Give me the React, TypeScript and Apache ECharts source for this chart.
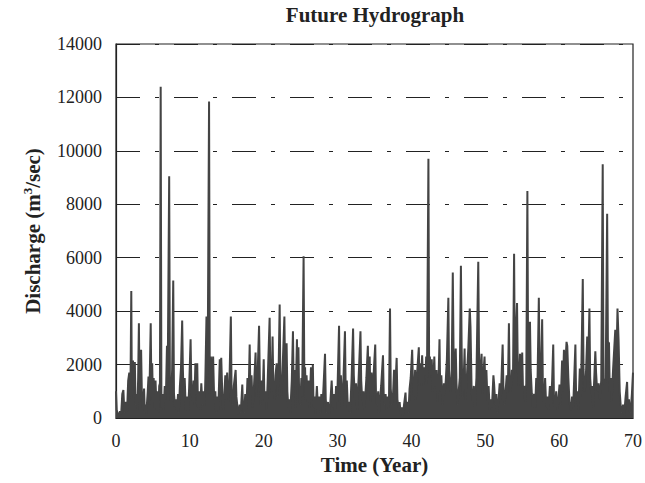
import React, { useEffect, useRef } from "react";
import * as echarts from "echarts";

const TITLE = "Future Hydrograph";
const X_NAME = "Time (Year)";
const Y_NAME_MAIN = "Discharge (m";
const Y_NAME_SUP = "3";
const Y_NAME_TAIL = "/sec)";
const X_MIN = 0;
const X_MAX = 70;
const X_STEP = 10;
const Y_MIN = 0;
const Y_MAX = 14000;
const Y_STEP = 2000;

// [time (year), discharge (m3/sec)] — peaks and troughs
const hydrograph: [number, number][] = [
  [0, 1000], [0.1, 300], [0.25, 150], [0.4, 100], [0.55, 250], [0.7, 150], [0.85, 900], [1.0, 1050], [1.1, 400], [1.2, 200],
  [1.35, 600], [1.5, 250], [1.65, 1400], [1.8, 1700], [1.95, 800], [2.07, 4750], [2.15, 700], [2.3, 2150], [2.45, 1200], [2.55, 2100],
  [2.65, 500], [2.8, 900], [2.9, 300], [3.0, 1500], [3.1, 3550], [3.2, 600], [3.4, 2550], [3.5, 900], [3.6, 300], [3.8, 1100],
  [3.9, 200], [4.0, 500], [4.1, 150], [4.3, 1000], [4.4, 1550], [4.5, 500], [4.7, 3550], [4.8, 800], [4.9, 2050], [5.0, 600],
  [5.1, 1500], [5.2, 400], [5.35, 1400], [5.5, 300], [5.6, 1000], [5.75, 200], [5.85, 1200], [5.95, 1300], [6.05, 12400], [6.15, 400],
  [6.3, 900], [6.45, 300], [6.6, 1200], [6.75, 700], [6.9, 2700], [7.0, 1500], [7.2, 9050], [7.3, 1200], [7.45, 600], [7.6, 1800],
  [7.75, 5150], [7.85, 900], [8.0, 400], [8.1, 700], [8.25, 300], [8.4, 900], [8.5, 200], [8.65, 1200], [8.8, 1900], [8.96, 3650],
  [9.05, 1900], [9.15, 800], [9.3, 1500], [9.45, 300], [9.6, 800], [9.75, 200], [9.9, 1100], [10.1, 2950], [10.2, 1200], [10.35, 600],
  [10.5, 1400], [10.6, 500], [10.75, 2050], [10.85, 900], [11.0, 2050], [11.1, 400], [11.3, 1000], [11.4, 300], [11.55, 1300], [11.7, 500],
  [11.85, 1000], [12.0, 400], [12.1, 1500], [12.25, 3800], [12.4, 1200], [12.6, 11850], [12.7, 900], [12.85, 2300], [13.0, 1200], [13.15, 2300],
  [13.3, 600], [13.45, 1000], [13.55, 200], [13.7, 800], [13.85, 300], [14.05, 2200], [14.15, 1000], [14.25, 2250], [14.4, 800], [14.5, 300],
  [14.65, 800], [14.8, 1600], [14.9, 700], [15.05, 1700], [15.2, 600], [15.35, 1200], [15.55, 3800], [15.65, 1000], [15.8, 500], [15.95, 1200],
  [16.2, 1800], [16.3, 800], [16.45, 400], [16.6, 150], [16.75, 500], [16.9, 200], [17.1, 1250], [17.2, 400], [17.35, 200], [17.5, 900],
  [17.65, 300], [17.8, 1500], [17.95, 800], [18.1, 2750], [18.2, 900], [18.35, 1600], [18.5, 400], [18.65, 1000], [18.9, 2450], [19.0, 800],
  [19.15, 1400], [19.37, 3450], [19.5, 1000], [19.6, 500], [19.75, 1400], [19.85, 700], [20.0, 2200], [20.1, 600], [20.25, 1000], [20.4, 300],
  [20.55, 1500], [20.8, 3750], [20.9, 1500], [21.05, 900], [21.2, 3050], [21.3, 1200], [21.45, 700], [21.6, 1600], [21.75, 2050], [21.85, 800],
  [22.0, 1500], [22.16, 4250], [22.25, 1600], [22.4, 800], [22.55, 1800], [22.8, 3800], [22.9, 1500], [23.1, 2800], [23.2, 1000], [23.35, 300],
  [23.5, 700], [23.6, 200], [23.8, 1400], [23.96, 3250], [24.05, 1200], [24.2, 1800], [24.3, 400], [24.5, 2950], [24.6, 1200], [24.7, 2650],
  [24.8, 800], [24.95, 500], [25.1, 1500], [25.2, 800], [25.4, 6050], [25.5, 1400], [25.6, 1900], [25.7, 700], [25.8, 1600], [25.95, 600],
  [26.1, 1400], [26.2, 400], [26.4, 1900], [26.5, 700], [26.65, 2000], [26.75, 400], [26.9, 800], [27.0, 150], [27.2, 1200], [27.35, 300],
  [27.5, 800], [27.65, 200], [27.8, 900], [27.95, 400], [28.1, 1200], [28.3, 2400], [28.4, 700], [28.55, 200], [28.7, 600], [28.85, 150],
  [29.0, 500], [29.2, 1400], [29.35, 400], [29.5, 900], [29.65, 300], [29.8, 1200], [29.95, 600], [30.2, 3450], [30.3, 1000], [30.45, 1600],
  [30.6, 400], [30.8, 1500], [31.0, 3250], [31.1, 1000], [31.25, 1400], [31.4, 300], [31.55, 600], [31.7, 200], [31.9, 1500], [32.1, 3350],
  [32.2, 1600], [32.35, 700], [32.5, 1300], [32.65, 300], [32.85, 1500], [33.1, 3250], [33.2, 1400], [33.35, 600], [33.5, 1000], [33.6, 300],
  [33.75, 800], [33.9, 1500], [34.1, 2700], [34.2, 1000], [34.35, 2300], [34.45, 600], [34.6, 1700], [34.75, 800], [34.95, 2000], [35.1, 2750],
  [35.2, 900], [35.35, 500], [35.5, 1000], [35.6, 200], [35.75, 700], [35.9, 1200], [36.15, 2350], [36.25, 800], [36.4, 500], [36.5, 900],
  [36.65, 300], [36.8, 800], [36.95, 400], [37.1, 4100], [37.2, 1100], [37.35, 500], [37.5, 800], [37.65, 1800], [37.8, 1000], [38.0, 2250],
  [38.1, 700], [38.25, 400], [38.4, 600], [38.55, 150], [38.7, 400], [38.85, 100], [39.0, 500], [39.2, 950], [39.3, 300], [39.45, 600],
  [39.6, 200], [39.75, 1100], [39.9, 1500], [40.1, 2550], [40.2, 1400], [40.35, 800], [40.5, 1800], [40.6, 700], [40.8, 1800], [41.0, 2650],
  [41.1, 1200], [41.2, 2050], [41.3, 1300], [41.45, 2350], [41.6, 1200], [41.75, 1900], [41.9, 1600], [42.0, 2300], [42.1, 1300], [42.3, 9700],
  [42.4, 1500], [42.5, 2300], [42.6, 1600], [42.75, 2200], [42.9, 1000], [43.1, 2300], [43.2, 1200], [43.4, 1800], [43.5, 600], [43.65, 1200],
  [43.8, 2950], [43.9, 1000], [44.05, 1600], [44.2, 500], [44.4, 1300], [44.5, 900], [44.65, 1400], [44.8, 2200], [45.0, 4500], [45.1, 1500],
  [45.25, 1000], [45.45, 1800], [45.6, 5450], [45.7, 2600], [45.8, 1200], [46.0, 2600], [46.1, 1300], [46.25, 500], [46.4, 1000], [46.55, 1500],
  [46.7, 5700], [46.8, 2600], [46.9, 800], [47.05, 1200], [47.2, 2600], [47.3, 700], [47.5, 1500], [47.7, 2600], [47.9, 4100], [48.0, 3400],
  [48.15, 1000], [48.3, 600], [48.45, 1200], [48.6, 400], [48.8, 1500], [49.05, 5850], [49.15, 2500], [49.3, 1200], [49.5, 2400], [49.6, 900],
  [49.75, 1700], [49.9, 2300], [50.0, 1200], [50.15, 1800], [50.3, 600], [50.45, 1200], [50.6, 300], [50.75, 700], [50.9, 400], [51.1, 1600],
  [51.2, 1250], [51.35, 500], [51.5, 900], [51.6, 200], [51.8, 700], [51.95, 1300], [52.1, 700], [52.35, 2750], [52.45, 1200], [52.6, 500],
  [52.75, 1000], [52.9, 1600], [53.05, 900], [53.2, 3550], [53.3, 1300], [53.45, 1000], [53.6, 1800], [53.75, 1400], [53.9, 6150], [54.0, 2000],
  [54.3, 4300], [54.4, 1800], [54.55, 1200], [54.7, 2400], [54.85, 1600], [55.0, 2450], [55.1, 1100], [55.25, 1200], [55.4, 600], [55.55, 1300],
  [55.7, 8500], [55.8, 2000], [56.05, 3600], [56.15, 1800], [56.3, 900], [56.45, 400], [56.6, 900], [56.75, 400], [56.9, 1500], [57.05, 1000],
  [57.25, 4500], [57.35, 2000], [57.5, 1000], [57.7, 3700], [57.8, 1000], [57.95, 600], [58.1, 1500], [58.25, 400], [58.4, 800], [58.55, 300],
  [58.75, 1200], [58.9, 500], [59.05, 1400], [59.2, 2750], [59.3, 700], [59.45, 400], [59.6, 1000], [59.75, 300], [59.9, 700], [60.05, 1250],
  [60.2, 500], [60.4, 2150], [60.5, 1000], [60.65, 2550], [60.75, 1500], [61.0, 2850], [61.1, 2700], [61.25, 1500], [61.4, 600], [61.6, 300],
  [61.75, 800], [61.9, 400], [62.2, 2750], [62.3, 700], [62.45, 1000], [62.6, 300], [62.8, 1850], [62.95, 800], [63.2, 5200], [63.3, 1800],
  [63.45, 1000], [63.6, 1400], [63.8, 3050], [63.9, 1600], [64.1, 4100], [64.2, 1500], [64.35, 900], [64.5, 1200], [64.6, 400], [64.9, 2500],
  [65.0, 1700], [65.15, 1000], [65.35, 1300], [65.5, 700], [65.7, 1400], [65.9, 9500], [66.0, 1300], [66.2, 1300], [66.3, 1500], [66.5, 7650],
  [66.6, 2850], [66.75, 2800], [66.85, 1000], [67.0, 1500], [67.1, 600], [67.3, 1800], [67.6, 3300], [67.75, 2000], [67.9, 4100], [68.05, 2900],
  [68.2, 1000], [68.35, 400], [68.5, 200], [68.65, 500], [68.8, 100], [69.0, 800], [69.2, 1350], [69.3, 300], [69.45, 700], [69.6, 200],
  [69.75, 500], [69.85, 900], [70.0, 1700],
];

const FONT = "'Liberation Serif', 'Times New Roman', serif";
const INK = "#222";
const LINE = "#444";

export default function App() {
  const ref = useRef<HTMLDivElement>(null);
  useEffect(() => {
    const chart = echarts.init(ref.current!, null, { renderer: "svg" });
    chart.setOption({
      animation: false,
      backgroundColor: "#ffffff",
      graphic: [
        {
          type: "text",
          x: 375,
          y: 4,
          style: {
            text: TITLE,
            align: "center",
            verticalAlign: "top",
            fontFamily: FONT,
            fontWeight: "bold",
            fontSize: 21,
            fill: INK,
          },
        },
      ],
      grid: {
        left: 116,
        right: 11,
        top: 44,
        bottom: 65,
        show: true,
        borderColor: INK,
        borderWidth: 1.2,
        backgroundColor: "transparent",
      },
      xAxis: {
        type: "value",
        min: X_MIN,
        max: X_MAX,
        interval: X_STEP,
        name: X_NAME,
        nameLocation: "middle",
        nameGap: 24,
        nameTextStyle: { fontFamily: FONT, fontWeight: "bold", fontSize: 21, color: INK },
        axisLine: { show: true, lineStyle: { color: INK, width: 1.2 } },
        axisTick: { show: false },
        axisLabel: { fontFamily: FONT, fontSize: 18, color: INK, margin: 14 },
        splitLine: { show: false },
      },
      yAxis: {
        type: "value",
        min: Y_MIN,
        max: Y_MAX,
        interval: Y_STEP,
        name: Y_NAME_MAIN + "{sup|" + Y_NAME_SUP + "}" + Y_NAME_TAIL,
        nameLocation: "middle",
        nameGap: 72,
        nameTextStyle: {
          fontFamily: FONT,
          fontWeight: "bold",
          fontSize: 21,
          color: INK,
          rich: {
            sup: {
              fontFamily: FONT,
              fontWeight: "bold",
              fontSize: 13,
              color: INK,
              verticalAlign: "top",
              padding: [0, 0, 10, 0],
            },
          },
        },
        axisLine: { show: true, lineStyle: { color: INK, width: 1.2 } },
        axisTick: { show: false },
        axisLabel: {
          fontFamily: FONT,
          fontSize: 18,
          color: INK,
          margin: 14,
          formatter: (v: number) => String(v),
        },
        splitLine: {
          show: true,
          lineStyle: { color: INK, width: 1.2, type: [24, 15, 4, 15] },
        },
      },
      series: [
        {
          type: "line",
          data: hydrograph,
          showSymbol: false,
          symbol: "none",
          lineStyle: { color: LINE, width: 2 },
          areaStyle: { color: LINE, opacity: 1 },
          itemStyle: { color: LINE },
          z: 3,
        },
      ],
    });
    return () => chart.dispose();
  }, []);
  return (
    <div
      ref={ref}
      style={{ position: "fixed", left: 0, top: 0, width: 645, height: 483, background: "#fff" }}
    />
  );
}
